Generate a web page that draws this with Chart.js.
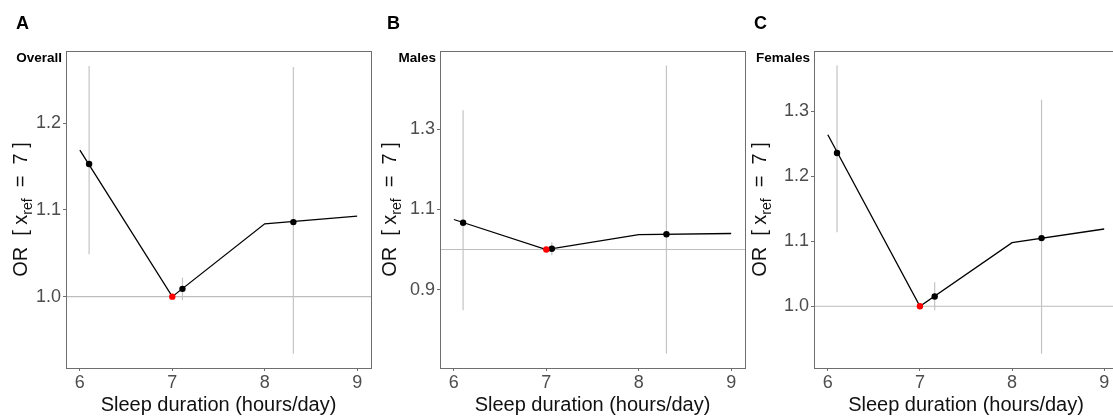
<!DOCTYPE html>
<html>
<head>
<meta charset="utf-8">
<script src="https://cdn.jsdelivr.net/npm/chart.js@4/dist/chart.umd.min.js"></script>
<style>
  html, body { margin: 0; padding: 0; background: #fff; overflow: hidden; width: 1113px; height: 416px; }
  .panel { position: absolute; top: 0; height: 416px; }
</style>
</head>
<body>
<div class="panel" id="pA" style="left:0px;width:375px"><canvas id="cA"></canvas></div>
<div class="panel" id="pB" style="left:375px;width:374px"><canvas id="cB"></canvas></div>
<div class="panel" id="pC" style="left:749px;width:400px"><canvas id="cC"></canvas></div>
<script>
// ---------------- data ----------------
const xTicks = [6, 7, 8, 9];
const xLim = [5.85, 9.15];
const splineX = [6, 7, 8, 9];
const refX = 7;
const refY = 1.0;
const xTitle = "Sleep duration (hours/day)";

// Panel A: Overall
const A_spline = [1.169, 1.0, 1.084, 1.093];
const A_ptX = [6.1, 7.11, 8.31];
const A_or = [1.153, 1.009, 1.086];
const A_lo = [1.049, 0.996, 0.934];
const A_hi = [1.266, 1.022, 1.265];
const A_yLim = [0.9177, 1.2834];
const A_yTicks = [1.0, 1.1, 1.2];

// Panel B: Males
const B_spline = [1.075, 1.0, 1.037, 1.040];
const B_ptX = [6.1, 7.06, 8.3];
const B_or = [1.067, 1.002, 1.038];
const B_lo = [0.848, 0.986, 0.740];
const B_hi = [1.348, 1.018, 1.460];
const B_yLim = [0.704, 1.496];
const B_yTicks = [0.9, 1.1, 1.3];

// Panel C: Females
const C_spline = [1.264, 1.0, 1.098, 1.119];
const C_ptX = [6.1, 7.16, 8.32];
const C_or = [1.236, 1.015, 1.105];
const C_lo = [1.114, 0.994, 0.927];
const C_hi = [1.371, 1.037, 1.318];
const C_yLim = [0.905, 1.393];
const C_yTicks = [1.0, 1.1, 1.2, 1.3];

// ---------------- drawing ----------------
const FONT = "'Liberation Sans', Arial, Helvetica, sans-serif";
const BORDER = '#6e6e6e';
const ERR = '#c4c4c4';
const REFLINE = '#bdbdbd';

function makeChart(canvasId, cfg) {
  const pts = (xs, ys) => xs.map((x, i) => ({ x: x, y: ys[i] }));
  const errSets = cfg.ptX.map((x, i) => ({
    type: 'scatter',
    data: [{ x: x, y: cfg.lo[i] }, { x: x, y: cfg.hi[i] }],
    showLine: true,
    borderColor: ERR,
    borderWidth: 1.2,
    pointRadius: 0,
    order: 5
  }));

  const deco = {
    id: 'deco',
    beforeDatasetsDraw(chart) {
      const { ctx, chartArea: a, scales } = chart;
      const y1 = scales.y.getPixelForValue(refY);
      ctx.save();
      ctx.strokeStyle = REFLINE;
      ctx.lineWidth = 1.1;
      ctx.beginPath();
      ctx.moveTo(a.left, y1);
      ctx.lineTo(a.right, y1);
      ctx.stroke();
      ctx.restore();
    },
    afterDraw(chart) {
      const { ctx, chartArea: a } = chart;
      ctx.save();
      // panel border
      ctx.strokeStyle = BORDER;
      ctx.lineWidth = 1;
      ctx.strokeRect(Math.round(a.left) + 0.5, Math.round(a.top) + 0.5,
                     Math.round(a.right - a.left), Math.round(a.bottom - a.top));
      // panel letter
      ctx.fillStyle = '#000';
      ctx.font = "bold 18px " + FONT;
      ctx.textAlign = 'left';
      ctx.textBaseline = 'alphabetic';
      ctx.fillText(cfg.letter, cfg.letterX, 29);
      // subtitle
      ctx.font = "bold 13.5px " + FONT;
      ctx.textAlign = 'right';
      ctx.fillText(cfg.sub, a.left - 4, 62);
      // x title
      ctx.font = "20px " + FONT;
      ctx.fillStyle = '#111';
      ctx.textAlign = 'center';
      ctx.fillText(xTitle, (a.left + a.right) / 2, 411);
      // y title with subscript
      const big = "20px " + FONT, small = "14px " + FONT;
      const parts = [
        { t: "OR  [ x", f: big, dy: 0 },
        { t: "ref", f: small, dy: 5 },
        { t: "  =  7 ]", f: big, dy: 0 }
      ];
      let total = 0;
      parts.forEach(p => { ctx.font = p.f; p.w = ctx.measureText(p.t).width; total += p.w; });
      const cx = a.left + cfg.yTitleDx;
      const cy = (a.top + a.bottom) / 2;
      ctx.translate(cx, cy);
      ctx.rotate(-Math.PI / 2);
      ctx.textAlign = 'left';
      ctx.textBaseline = 'alphabetic';
      let px = -total / 2;
      parts.forEach(p => {
        ctx.font = p.f;
        ctx.fillText(p.t, px, 7 + p.dy);
        px += p.w;
      });
      ctx.restore();
    }
  };

  return new Chart(document.getElementById(canvasId), {
    type: 'scatter',
    data: {
      datasets: [
        ...errSets,
        {
          type: 'scatter',
          data: pts(splineX, cfg.spline),
          showLine: true,
          borderColor: '#000',
          borderWidth: 1.3,
          pointRadius: 0,
          tension: 0,
          order: 3
        },
        {
          type: 'scatter',
          data: pts(cfg.ptX, cfg.or),
          backgroundColor: '#000',
          borderColor: '#000',
          pointRadius: 3.2,
          borderWidth: 0,
          order: 1
        },
        {
          type: 'scatter',
          data: [{ x: refX, y: refY }],
          backgroundColor: '#ff0000',
          borderColor: '#ff0000',
          pointRadius: 3.2,
          borderWidth: 0,
          order: 0
        }
      ]
    },
    options: {
      responsive: false,
      animation: false,
      events: [],
      layout: { padding: { top: 51, right: cfg.padR, left: 0, bottom: 0 } },
      plugins: { legend: { display: false }, tooltip: { enabled: false } },
      scales: {
        x: {
          type: 'linear',
          min: xLim[0], max: xLim[1],
          afterBuildTicks: s => { s.ticks = xTicks.map(v => ({ value: v })); },
          afterFit: s => { s.height = 48; },
          border: { display: false },
          grid: { display: true, drawOnChartArea: false, drawTicks: true, tickLength: 3, color: BORDER, lineWidth: 1 },
          ticks: { color: '#4d4d4d', font: { family: FONT, size: 18 }, padding: 1, maxRotation: 0,
                   callback: v => String(v) }
        },
        y: {
          type: 'linear',
          min: cfg.yLim[0], max: cfg.yLim[1],
          afterBuildTicks: s => { s.ticks = cfg.yTicks.map(v => ({ value: v })); },
          afterFit: s => { s.width = cfg.yW; },
          border: { display: false },
          grid: { display: true, drawOnChartArea: false, drawTicks: true, tickLength: 3, color: BORDER, lineWidth: 1 },
          ticks: { color: '#4d4d4d', font: { family: FONT, size: 18 }, padding: 2,
                   callback: v => Number(v).toFixed(1) }
        }
      }
    },
    plugins: [deco]
  });
}

function sizeCanvas(id, w) {
  const c = document.getElementById(id);
  c.width = w; c.height = 416;
  c.style.width = w + 'px'; c.style.height = '416px';
}
sizeCanvas('cA', 375);
sizeCanvas('cB', 374);
sizeCanvas('cC', 400);

makeChart('cA', { spline: A_spline, ptX: A_ptX, or: A_or, lo: A_lo, hi: A_hi, yLim: A_yLim, yTicks: A_yTicks,
  yW: 66, padR: 4, letter: 'A', letterX: 16, sub: 'Overall', yTitleDx: -46 });
makeChart('cB', { spline: B_spline, ptX: B_ptX, or: B_or, lo: B_lo, hi: B_hi, yLim: B_yLim, yTicks: B_yTicks,
  yW: 65, padR: 4, letter: 'B', letterX: 12, sub: 'Males', yTitleDx: -51 });
makeChart('cC', { spline: C_spline, ptX: C_ptX, or: C_or, lo: C_lo, hi: C_hi, yLim: C_yLim, yTicks: C_yTicks,
  yW: 65, padR: 31, letter: 'C', letterX: 5, sub: 'Females', yTitleDx: -55 });
</script>
</body>
</html>
